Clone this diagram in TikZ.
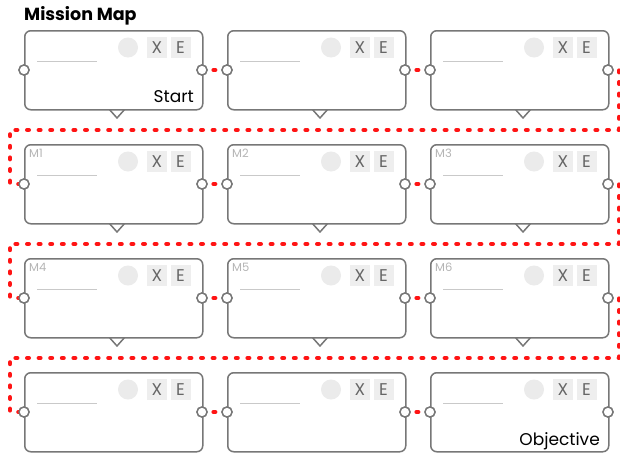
\documentclass[tikz,border=0pt]{standalone}
\usepackage{fontspec}
\setmainfont{Poppins}
\usetikzlibrary{backgrounds}
\definecolor{cardgray}{HTML}{777777}
\definecolor{phgray}{HTML}{C9C9C9}
\definecolor{btnfill}{HTML}{EEEEEE}
\definecolor{btntext}{HTML}{666666}
\definecolor{dotfill}{HTML}{EBEBEB}
\definecolor{mgray}{HTML}{B5B5B5}
\definecolor{routered}{HTML}{FF1414}
\begin{document}
\begin{tikzpicture}[x=1pt,y=-1pt,
  card/.style={draw=cardgray, line width=1.5pt, rounded corners=6pt, fill=white,
    minimum width=178pt, minimum height=79pt, inner sep=0pt, anchor=north west},
  port/.style={circle, draw=cardgray, fill=white, line width=1.4pt, minimum size=10pt, inner sep=0pt},
  route/.style={draw=routered, line width=4.4pt, line cap=round, line join=round, dash pattern=on 1.6pt off 10pt},
  phline/.style={draw=phgray, line width=0.9pt},
  dotc/.style={circle, fill=dotfill, minimum size=20pt, inner sep=0pt},
  btn/.style={fill=btnfill, minimum width=20pt, minimum height=21pt, inner sep=0pt,
    text=btntext, font=\fontsize{17}{17}\selectfont},
  mlabel/.style={text=mgray, font=\fontsize{11.5}{12}\selectfont, anchor=base west, inner sep=0pt},
  endlabel/.style={text=black, font=\fontsize{17}{17}\selectfont, anchor=base east, inner sep=0pt},
  pointer/.style={draw=cardgray, line width=1.5pt, line join=round, line cap=round},
]
\begin{scope}[on background layer]
\fill[white] (0,0) rectangle (620,455);
\end{scope}
\useasboundingbox (0,0) rectangle (620,455);

\node[anchor=base west, inner sep=0pt, font=\fontsize{17.5}{18}\selectfont\bfseries] (title) at (24,20) {Mission Map};

\foreach \r in {0,1,2,3}{
  \foreach \c in {0,1,2}{
    \pgfmathtruncatemacro{\n}{3*\r+\c}
    \pgfmathsetmacro{\L}{24+203*\c}
    \pgfmathsetmacro{\T}{30+114*\r}
    \ifnum\r<3
      \draw[pointer] (\L+85,\T+79) -- (\L+93,\T+88) -- (\L+101,\T+79);
    \fi
    \node[card] (card\n) at (\L,\T) {};
    \draw[phline] (\L+13,\T+31) -- (\L+73,\T+31);
    \node[dotc] (dot\n) at (\L+104,\T+17.5) {};
    \node[btn] (x\n) at (\L+133,\T+17.5) {X};
    \node[btn] (e\n) at (\L+156.5,\T+17.5) {E};
    \node[port] (l\n) at (\L,\T+40) {};
    \node[port] (r\n) at (\L+178,\T+40) {};
  }
}

\foreach \k in {1,...,6}{
  \pgfmathtruncatemacro{\n}{\k+2}
  \pgfmathsetmacro{\L}{24+203*mod(\n,3)}
  \pgfmathsetmacro{\T}{30+114*int(\n/3)}
  \node[mlabel] (m\k) at (\L+5,\T+13) {M\k};
}

\node[endlabel] (start) at (194,102) {Start};
\node[endlabel] (objective) at (600,445) {Objective};

\foreach \a/\b in {0/1,1/2,3/4,4/5,6/7,7/8,9/10,10/11}{
  \draw[route] (r\a.center) -- (l\b.center);
}
\foreach \a/\b/\y in {2/3/130,5/6/244,8/9/358}{
  \draw[route] (r\a.center) -| (619,\y) -- (10,\y) |- (l\b.center);
}
\foreach \n in {0,...,11}{
  \node[port] at (l\n) {};
  \node[port] at (r\n) {};
}
\end{tikzpicture}
\end{document}
